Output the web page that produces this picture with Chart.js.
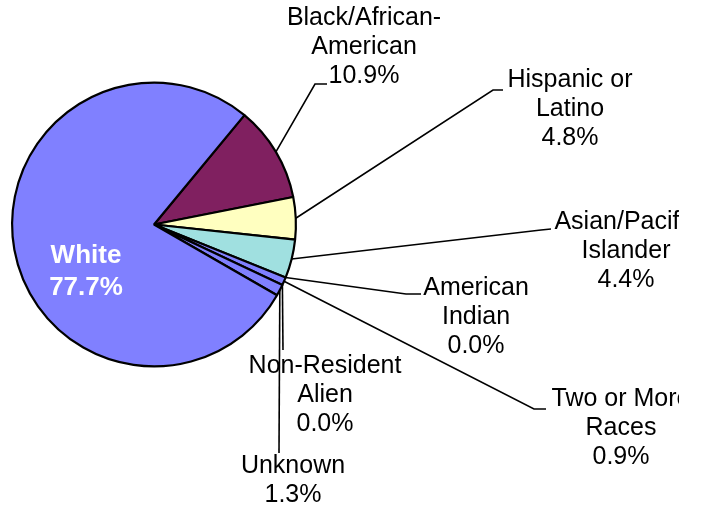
<!DOCTYPE html>
<html>
<head>
<meta charset="utf-8">
<script src="https://cdn.jsdelivr.net/npm/chart.js@4"></script>
<style>
  html, body { margin: 0; padding: 0; background: #fff; }
  #wrap { width: 702px; height: 511px; }
</style>
</head>
<body>
<div id="wrap"><canvas id="pieChart" width="702" height="511"></canvas></div>
<script>
// categories, in drawing order (clockwise from the White/Black border)
const categories = [
    'Black/African-\nAmerican',
    'Hispanic or\nLatino',
    'Asian/Pacific\nIslander',
    'American\nIndian',
    'Two or More\nRaces',
    'Non-Resident\nAlien',
    'Unknown',
    'White'
];
// percent of total
const shares = [10.9, 4.8, 4.4, 0.0, 0.9, 0.0, 1.3, 77.7];
const sliceColors = ['#802060', '#ffffc0', '#a0e0e0', '#8080ff', '#8080ff', '#8080ff', '#8080ff', '#8080ff'];

// where each label sits: text centre x, first line y, and the leader bend points
const labelLayout = [
    { cx: 364, y: 18, path: [[315, 84], [327, 84]] },
    { cx: 570, y: 80, path: [[493, 90], [503, 90]] },
    { cx: 626, y: 222, path: [[541, 230], [551, 229]] },
    { cx: 476, y: 288, path: [[406, 294], [421, 294]] },
    { cx: 621, y: 399, path: [[534, 409], [546, 409]] },
    { cx: 325, y: 366, path: [[283, 350]] },
    { cx: 293, y: 466, path: [[279, 453]] },
    { cx: 86, y: 256, inside: true }
];

// draw labels and leader lines
const labelPlugin = {
    id: 'pieLabels',
    afterDatasetsDraw (chart) {
        const ctx = chart.ctx;
        const arcs = chart.getDatasetMeta(0).data;
        ctx.save();
        ctx.beginPath();
        ctx.rect(0, 0, 679, 511);
        ctx.clip();
        arcs.forEach(function (arc, i) {
            const p = arc.getProps(['x', 'y', 'startAngle', 'endAngle', 'outerRadius'], true);
            const lay = labelLayout[i];
            const lines = categories[i].split('\n').concat([shares[i].toFixed(1) + '%']);
            if (lay.inside) {
                ctx.font = 'bold 26px "Liberation Sans", Arial, sans-serif';
                ctx.fillStyle = '#ffffff';
                ctx.textAlign = 'center';
                ctx.textBaseline = 'middle';
                lines.forEach(function (t, k) { ctx.fillText(t, lay.cx, lay.y + k * 32); });
                return;
            }
            const mid = (p.startAngle + p.endAngle) / 2;
            ctx.beginPath();
            ctx.moveTo(p.x + Math.cos(mid) * p.outerRadius, p.y + Math.sin(mid) * p.outerRadius);
            lay.path.forEach(function (pt) { ctx.lineTo(pt[0], pt[1]); });
            ctx.strokeStyle = '#000';
            ctx.lineWidth = 1.6;
            ctx.stroke();
            ctx.font = '25px "Liberation Sans", Arial, sans-serif';
            ctx.fillStyle = '#000';
            ctx.textAlign = 'center';
            ctx.textBaseline = 'middle';
            lines.forEach(function (t, k) { ctx.fillText(t, lay.cx, lay.y + k * 29); });
        });
        ctx.restore();
    }
};

const config = {
    type: 'pie',
    data: {
        labels: categories,
        datasets: [{
            data: shares,
            backgroundColor: sliceColors,
            borderColor: '#000000',
            borderWidth: 2.2,
            hoverOffset: 0
        }]
    },
    options: {
        responsive: false,
        animation: false,
        events: [],
        rotation: 39.6,
        layout: {
            padding: { left: 11, right: 405, top: 81, bottom: 143 }
        },
        plugins: {
            legend: { display: false },
            tooltip: { enabled: false }
        }
    },
    plugins: [labelPlugin]
};

const myChart = new Chart(document.getElementById('pieChart'), config);
</script>
</body>
</html>
